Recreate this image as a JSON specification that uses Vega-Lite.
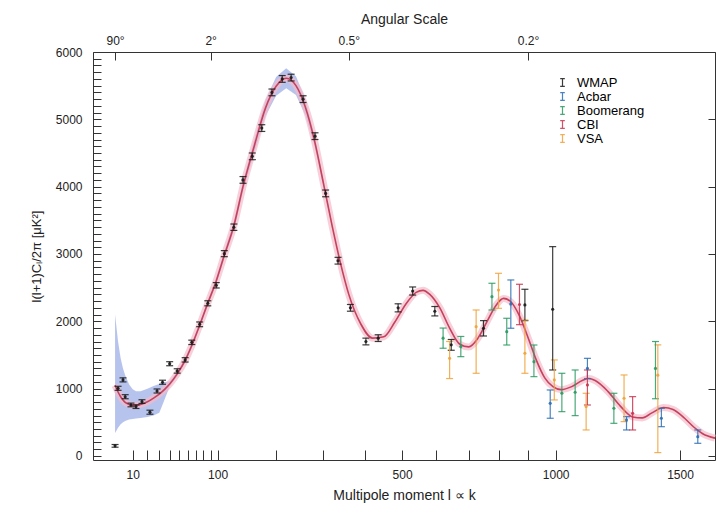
{
  "$schema": "https://vega.github.io/schema/vega-lite/v6.json",
  "width": 622,
  "height": 408,
  "autosize": {"type": "none"},
  "padding": {"left": 93, "top": 52, "right": 1, "bottom": 53},
  "background": "white",
  "config": {
    "view": {"stroke": "#333333", "strokeWidth": 1},
    "font": "Liberation Sans",
    "axis": {"domain": false, "grid": false, "labelFont": "Liberation Sans", "titleFont": "Liberation Sans", "labelColor": "#222", "titleColor": "#222", "tickColor": "#333", "tickWidth": 1, "labelOverlap": false, "labelFlush": false}
  },
  "datasets": {
    "curve": [
      {"l": 2, "D": 1050}, {"l": 3, "D": 950}, {"l": 4, "D": 880}, {"l": 5, "D": 830}, {"l": 6, "D": 795},
      {"l": 8, "D": 765}, {"l": 10, "D": 752}, {"l": 12, "D": 750}, {"l": 15, "D": 765}, {"l": 20, "D": 805},
      {"l": 25, "D": 860}, {"l": 30, "D": 920}, {"l": 35, "D": 990}, {"l": 40, "D": 1070}, {"l": 48, "D": 1220},
      {"l": 57, "D": 1420}, {"l": 65, "D": 1640}, {"l": 75, "D": 1940}, {"l": 86, "D": 2270}, {"l": 98, "D": 2600},
      {"l": 110, "D": 2980}, {"l": 125, "D": 3420}, {"l": 140, "D": 4000}, {"l": 160, "D": 4620}, {"l": 180, "D": 5170},
      {"l": 200, "D": 5490}, {"l": 220, "D": 5610}, {"l": 240, "D": 5500}, {"l": 260, "D": 5180}, {"l": 280, "D": 4680},
      {"l": 300, "D": 4050}, {"l": 320, "D": 3420}, {"l": 340, "D": 2860}, {"l": 360, "D": 2400}, {"l": 390, "D": 1960},
      {"l": 420, "D": 1750}, {"l": 450, "D": 1770}, {"l": 480, "D": 1990}, {"l": 510, "D": 2250}, {"l": 540, "D": 2430},
      {"l": 560, "D": 2460}, {"l": 580, "D": 2400}, {"l": 610, "D": 2200}, {"l": 640, "D": 1900}, {"l": 672, "D": 1660},
      {"l": 700, "D": 1620}, {"l": 730, "D": 1750}, {"l": 760, "D": 2000}, {"l": 790, "D": 2240}, {"l": 815, "D": 2340},
      {"l": 840, "D": 2290}, {"l": 870, "D": 2080}, {"l": 900, "D": 1760}, {"l": 930, "D": 1420}, {"l": 960, "D": 1160},
      {"l": 990, "D": 1030}, {"l": 1020, "D": 985}, {"l": 1060, "D": 1030}, {"l": 1100, "D": 1120}, {"l": 1125, "D": 1150},
      {"l": 1150, "D": 1120}, {"l": 1200, "D": 960}, {"l": 1250, "D": 740}, {"l": 1300, "D": 580}, {"l": 1340, "D": 565},
      {"l": 1380, "D": 640}, {"l": 1430, "D": 720}, {"l": 1470, "D": 690}, {"l": 1520, "D": 560}, {"l": 1560, "D": 430},
      {"l": 1600, "D": 330}, {"l": 1655, "D": 265}
    ],
    "band": [
      {"l": 2, "lo": 340, "hi": 2100}, {"l": 3, "lo": 420, "hi": 1700}, {"l": 4, "lo": 470, "hi": 1450},
      {"l": 5, "lo": 500, "hi": 1300}, {"l": 6, "lo": 520, "hi": 1200}, {"l": 8, "lo": 540, "hi": 1060},
      {"l": 10, "lo": 550, "hi": 990}, {"l": 12, "lo": 555, "hi": 960}, {"l": 15, "lo": 565, "hi": 960},
      {"l": 20, "lo": 580, "hi": 1000}, {"l": 25, "lo": 600, "hi": 1040}, {"l": 30, "lo": 640, "hi": 1070},
      {"l": 33, "lo": 760, "hi": 1090}, {"l": 40, "lo": 1030, "hi": 1110}, {"l": 48, "lo": 1180, "hi": 1260},
      {"l": 57, "lo": 1380, "hi": 1460}, {"l": 65, "lo": 1600, "hi": 1680}, {"l": 75, "lo": 1900, "hi": 1980},
      {"l": 86, "lo": 2230, "hi": 2310}, {"l": 98, "lo": 2550, "hi": 2650}, {"l": 110, "lo": 2920, "hi": 3040},
      {"l": 125, "lo": 3350, "hi": 3490}, {"l": 140, "lo": 3920, "hi": 4080}, {"l": 160, "lo": 4520, "hi": 4720},
      {"l": 180, "lo": 5050, "hi": 5290}, {"l": 200, "lo": 5350, "hi": 5630}, {"l": 220, "lo": 5460, "hi": 5760},
      {"l": 240, "lo": 5360, "hi": 5640}, {"l": 260, "lo": 5060, "hi": 5300}, {"l": 280, "lo": 4600, "hi": 4760},
      {"l": 300, "lo": 4000, "hi": 4100}, {"l": 320, "lo": 3380, "hi": 3460}
    ],
    "pts": [
      {"s": "WMAP", "l": 2, "D": 150, "lo": 130, "hi": 170},
      {"s": "WMAP", "l": 3, "D": 1005, "lo": 975, "hi": 1035},
      {"s": "WMAP", "l": 5, "D": 1130, "lo": 1100, "hi": 1160},
      {"s": "WMAP", "l": 6, "D": 880, "lo": 850, "hi": 910},
      {"s": "WMAP", "l": 9, "D": 757, "lo": 730, "hi": 785},
      {"s": "WMAP", "l": 12, "D": 733, "lo": 705, "hi": 760},
      {"s": "WMAP", "l": 16, "D": 807, "lo": 780, "hi": 835},
      {"s": "WMAP", "l": 22, "D": 650, "lo": 620, "hi": 680},
      {"s": "WMAP", "l": 28, "D": 965, "lo": 935, "hi": 995},
      {"s": "WMAP", "l": 33, "D": 1094, "lo": 1065, "hi": 1125},
      {"s": "WMAP", "l": 40, "D": 1371, "lo": 1340, "hi": 1400},
      {"s": "WMAP", "l": 48, "D": 1262, "lo": 1230, "hi": 1295},
      {"s": "WMAP", "l": 57, "D": 1426, "lo": 1395, "hi": 1460},
      {"s": "WMAP", "l": 65, "D": 1688, "lo": 1655, "hi": 1720},
      {"s": "WMAP", "l": 75, "D": 1956, "lo": 1920, "hi": 1990},
      {"s": "WMAP", "l": 86, "D": 2268, "lo": 2230, "hi": 2305},
      {"s": "WMAP", "l": 98, "D": 2535, "lo": 2495, "hi": 2575},
      {"s": "WMAP", "l": 110, "D": 3005, "lo": 2960, "hi": 3050},
      {"s": "WMAP", "l": 125, "D": 3397, "lo": 3350, "hi": 3445},
      {"s": "WMAP", "l": 140, "D": 4100, "lo": 4050, "hi": 4150},
      {"s": "WMAP", "l": 156, "D": 4450, "lo": 4400, "hi": 4500},
      {"s": "WMAP", "l": 173, "D": 4870, "lo": 4820, "hi": 4920},
      {"s": "WMAP", "l": 192, "D": 5400, "lo": 5350, "hi": 5450},
      {"s": "WMAP", "l": 212, "D": 5600, "lo": 5550, "hi": 5650},
      {"s": "WMAP", "l": 230, "D": 5620, "lo": 5570, "hi": 5670},
      {"s": "WMAP", "l": 255, "D": 5300, "lo": 5250, "hi": 5350},
      {"s": "WMAP", "l": 281, "D": 4750, "lo": 4700, "hi": 4800},
      {"s": "WMAP", "l": 305, "D": 3900, "lo": 3850, "hi": 3950},
      {"s": "WMAP", "l": 334, "D": 2900, "lo": 2850, "hi": 2950},
      {"s": "WMAP", "l": 364, "D": 2200, "lo": 2150, "hi": 2250},
      {"s": "WMAP", "l": 403, "D": 1700, "lo": 1650, "hi": 1750},
      {"s": "WMAP", "l": 435, "D": 1750, "lo": 1700, "hi": 1800},
      {"s": "WMAP", "l": 489, "D": 2200, "lo": 2140, "hi": 2260},
      {"s": "WMAP", "l": 530, "D": 2450, "lo": 2390, "hi": 2510},
      {"s": "WMAP", "l": 595, "D": 2150, "lo": 2080, "hi": 2220},
      {"s": "WMAP", "l": 645, "D": 1650, "lo": 1570, "hi": 1730},
      {"s": "WMAP", "l": 748, "D": 1896, "lo": 1782, "hi": 2010},
      {"s": "WMAP", "l": 889, "D": 2243, "lo": 2010, "hi": 2476},
      {"s": "WMAP", "l": 989, "D": 2179, "lo": 1277, "hi": 3109},
      {"s": "Boomerang", "l": 620, "D": 1750, "lo": 1600, "hi": 1900},
      {"s": "VSA", "l": 640, "D": 1450, "lo": 1150, "hi": 1700},
      {"s": "Boomerang", "l": 675, "D": 1624, "lo": 1475, "hi": 1775},
      {"s": "VSA", "l": 724, "D": 1920, "lo": 1228, "hi": 2168},
      {"s": "Boomerang", "l": 776, "D": 2366, "lo": 2168, "hi": 2565},
      {"s": "VSA", "l": 798, "D": 2465, "lo": 2193, "hi": 2713},
      {"s": "Boomerang", "l": 826, "D": 1846, "lo": 1648, "hi": 2045},
      {"s": "Acbar", "l": 840, "D": 2258, "lo": 1897, "hi": 2614},
      {"s": "CBI", "l": 870, "D": 2250, "lo": 1950, "hi": 2550},
      {"s": "VSA", "l": 889, "D": 1525, "lo": 1228, "hi": 2020},
      {"s": "Boomerang", "l": 921, "D": 1401, "lo": 1178, "hi": 1648},
      {"s": "Acbar", "l": 980, "D": 782, "lo": 560, "hi": 980},
      {"s": "VSA", "l": 995, "D": 1129, "lo": 832, "hi": 1426},
      {"s": "Boomerang", "l": 1023, "D": 931, "lo": 658, "hi": 1228},
      {"s": "Boomerang", "l": 1073, "D": 946, "lo": 599, "hi": 1277},
      {"s": "Acbar", "l": 1120, "D": 1300, "lo": 1150, "hi": 1450},
      {"s": "CBI", "l": 1120, "D": 1055, "lo": 757, "hi": 1277},
      {"s": "VSA", "l": 1115, "D": 733, "lo": 386, "hi": 931},
      {"s": "Boomerang", "l": 1224, "D": 708, "lo": 485, "hi": 931},
      {"s": "VSA", "l": 1265, "D": 857, "lo": 510, "hi": 1203},
      {"s": "Acbar", "l": 1275, "D": 535, "lo": 386, "hi": 584},
      {"s": "CBI", "l": 1300, "D": 634, "lo": 386, "hi": 881},
      {"s": "Boomerang", "l": 1395, "D": 1300, "lo": 850, "hi": 1700},
      {"s": "VSA", "l": 1405, "D": 1200, "lo": 50, "hi": 1650},
      {"s": "Acbar", "l": 1420, "D": 560, "lo": 435, "hi": 708},
      {"s": "Acbar", "l": 1578, "D": 287, "lo": 188, "hi": 386}
    ]
  },
  "layer": [
    {
      "data": {"name": "band"},
      "mark": {"type": "area", "color": "#a9b8ea", "opacity": 0.85},
      "encoding": {
        "x": {"field": "l", "type": "quantitative", "scale": {"type": "pow", "exponent": 0.6, "domain": [-2.116, 1655], "nice": false, "zero": false},
          "axis": {"orient": "top", "values": [2, 90, 360, 900], "labelExpr": "datum.value == 2 ? '90°' : datum.value == 90 ? '2°' : datum.value == 360 ? '0.5°' : '0.2°'", "labelFontSize": 12, "offset": -8, "tickSize": 8, "labelPadding": 5, "title": "Angular Scale", "titleFontSize": 14, "titleFontWeight": "normal", "titlePadding": 8}},
        "y": {"field": "lo", "type": "quantitative", "scale": {"domain": [-60, 6000], "nice": false, "zero": false},
          "axis": {"orient": "right", "values": [0, 1000, 2000, 3000, 4000, 5000, 6000], "labels": false, "title": null, "offset": -7, "tickSize": 7}},
        "y2": {"field": "hi"}
      }
    },
    {
      "data": {"name": "curve"},
      "mark": {"type": "line", "color": "#f3bccb", "strokeWidth": 7, "opacity": 0.7, "interpolate": "monotone"},
      "encoding": {
        "x": {"field": "l", "type": "quantitative", "axis": null},
        "y": {"field": "D", "type": "quantitative", "axis": null}
      }
    },
    {
      "data": {"name": "curve"},
      "mark": {"type": "line", "color": "#c4425e", "strokeWidth": 1.6, "interpolate": "monotone"},
      "encoding": {
        "x": {"field": "l", "type": "quantitative",
          "axis": {"orient": "bottom", "values": [10, 20, 30, 40, 50, 60, 70, 80, 90, 100, 200, 300, 400, 500, 600, 700, 800, 900, 1000, 1500],
            "labelExpr": "indexof([10, 100, 500, 1000, 1500], datum.value) >= 0 ? format(datum.value, 'd') : ''",
            "labelFontSize": 12, "offset": -10, "tickSize": 10, "labelPadding": 9, "title": "Multipole moment  l  ∝  k", "titleFontSize": 14, "titleFontWeight": "normal", "titlePadding": 8,
            "encode": {"ticks": {"update": {"y": {"signal": "indexof([10, 100, 500, 1000, 1500], datum.value) >= 0 ? 0 : 4"}}}}}},
        "y": {"field": "D", "type": "quantitative",
          "axis": {"orient": "left", "values": [0, 100, 200, 300, 400, 500, 600, 700, 800, 900, 1000, 1100, 1200, 1300, 1400, 1500, 1600, 1700, 1800, 1900, 2000, 2100, 2200, 2300, 2400, 2500, 2600, 2700, 2800, 2900, 3000, 3100, 3200, 3300, 3400, 3500, 3600, 3700, 3800, 3900, 4000, 4100, 4200, 4300, 4400, 4500, 4600, 4700, 4800, 4900, 5000, 5100, 5200, 5300, 5400, 5500, 5600, 5700, 5800, 5900, 6000],
            "labelExpr": "datum.value % 1000 == 0 ? format(datum.value, 'd') : ''",
            "labelFontSize": 12, "offset": -8, "tickSize": 8, "labelPadding": 11, "title": "l(l+1)Cₗ/2π [μK²]", "titleFontSize": 13, "titleFontWeight": "normal", "titlePadding": 12,
            "encode": {"ticks": {"update": {"x": {"signal": "datum.value % 1000 == 0 ? 0 : -3"}}}}}}
      }
    },
    {
      "data": {"name": "pts"},
      "mark": {"type": "errorbar", "ticks": {"size": 7}, "thickness": 1.2, "opacity": 0.85},
      "encoding": {
        "x": {"field": "l", "type": "quantitative", "axis": null},
        "y": {"field": "lo", "type": "quantitative", "axis": null},
        "y2": {"field": "hi"},
        "color": {"field": "s", "type": "nominal",
          "scale": {"domain": ["WMAP", "Acbar", "Boomerang", "CBI", "VSA"], "range": ["#1a1a1a", "#2a6fb5", "#2a9a62", "#c8334e", "#f0a23a"]},
          "legend": {"orient": "none", "legendX": 463, "legendY": 24, "title": null, "labelFontSize": 13, "labelOffset": 8, "rowPadding": 0,
            "symbolType": "M-0.6,-1H0.6M0,-1V1M-0.6,1H0.6", "symbolSize": 60, "symbolStrokeWidth": 1.2, "symbolFillColor": "transparent",
            "encode": {"labels": {"update": {"fill": {"scale": "color", "field": "value"}}}}}}
      }
    },
    {
      "data": {"name": "pts"},
      "mark": {"type": "circle", "size": 10, "opacity": 0.9},
      "encoding": {
        "x": {"field": "l", "type": "quantitative", "axis": null},
        "y": {"field": "D", "type": "quantitative", "axis": null},
        "color": {"field": "s", "type": "nominal", "legend": null}
      }
    }
  ],
  "resolve": {"axis": {"x": "independent", "y": "independent"}}
}
